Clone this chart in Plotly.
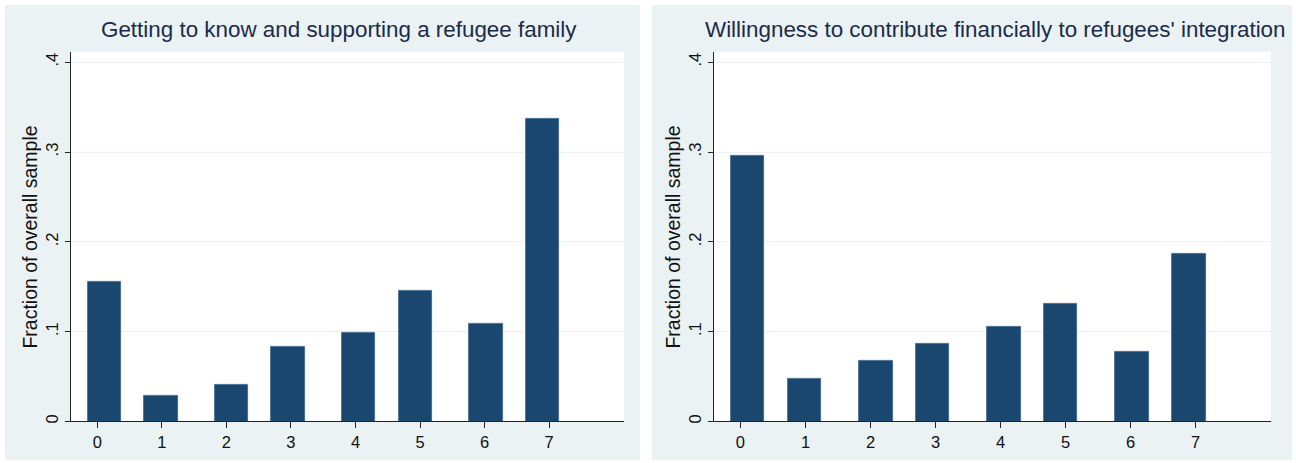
import plotly.graph_objects as go

# ---- data ----
tick_values = [0, 1, 2, 3, 4, 5, 6, 7]
tick_labels = ["0", "1", "2", "3", "4", "5", "6", "7"]
bar_x = [0.108, 0.986, 2.084, 2.956, 4.052, 4.926, 6.023, 6.900]
bar_width = 0.515
family_vals = [0.156, 0.029, 0.041, 0.083, 0.099, 0.146, 0.109, 0.337]
finance_vals = [0.296, 0.047, 0.068, 0.087, 0.105, 0.131, 0.078, 0.187]
y_tickvals = [0, 0.1, 0.2, 0.3, 0.4]
y_ticktext = ["0", ".1", ".2", ".3", ".4"]
titles = ["Getting to know and supporting a refugee family",
          "Willingness to contribute financially to refugees' integration"]
ytitle = "Fraction of overall sample"

W, H = 1296, 463
BG = "#EAF2F3"
BAR = "#1A476F"
FONT = "Liberation Sans"

def px(x):
    return x / W

def py(y):
    return 1 - y / H

panels = [(5, 640), (652, 1292)]
plot_x = [(71, 624), (714, 1271)]
title_cx = [339, 995]
plot_top, plot_bot = 52, 423.3

fig = go.Figure()
for i, vals in enumerate([family_vals, finance_vals]):
    fig.add_trace(go.Bar(
        x=bar_x, y=vals, width=bar_width,
        marker=dict(color=BAR, line=dict(color="#3a6389", width=0.8)),
        xaxis="x" if i == 0 else "x2", yaxis="y" if i == 0 else "y2",
        showlegend=False, hoverinfo="skip"))

shapes = []
for (a, b) in panels:
    shapes.append(dict(type="rect", xref="paper", yref="paper",
                       x0=px(a), x1=px(b), y0=py(462), y1=py(5),
                       fillcolor=BG, line=dict(width=0), layer="below"))
for (a, b) in plot_x:
    shapes.append(dict(type="rect", xref="paper", yref="paper",
                       x0=px(a), x1=px(b), y0=py(plot_bot), y1=py(plot_top),
                       fillcolor="white", line=dict(width=0), layer="below"))

ax_common = dict(range=[-0.407, 8.16], tickvals=tick_values, ticktext=tick_labels,
                 showgrid=False, zeroline=False, showline=True, linecolor="#222",
                 linewidth=1, ticks="outside", ticklen=6, tickcolor="#222",
                 tickfont=dict(family=FONT, size=16.5, color="#111"))
ay_common = dict(range=[0, 0.4116], tickvals=y_tickvals, ticktext=y_ticktext,
                 showgrid=True, gridcolor=BG, gridwidth=1, zeroline=False,
                 showline=True, linecolor="#222", linewidth=1, ticks="outside",
                 ticklen=5, tickcolor="#222", tickangle=-90,
                 tickfont=dict(family=FONT, size=16.5, color="#111"))

ydom = [py(plot_bot), py(plot_top)]
annotations = []
for i, (a, b) in enumerate(plot_x):
    annotations.append(dict(text=titles[i], xref="paper", yref="paper",
                            x=px(title_cx[i]), y=py(30), showarrow=False,
                            xanchor="center", yanchor="middle",
                            font=dict(family=FONT, size=22.4, color="#1c2b4a")))
    annotations.append(dict(text=ytitle, xref="paper", yref="paper",
                            x=px(a - 41), y=py((plot_top + plot_bot) / 2 + 1),
                            showarrow=False, textangle=-90,
                            xanchor="center", yanchor="middle",
                            font=dict(family=FONT, size=19.5, color="#111")))

fig.update_layout(
    width=W, height=H, margin=dict(l=0, r=0, t=0, b=0),
    paper_bgcolor="white", plot_bgcolor="rgba(0,0,0,0)",
    xaxis=dict(domain=[px(plot_x[0][0]), px(plot_x[0][1])], anchor="y", **ax_common),
    yaxis=dict(domain=ydom, anchor="x", **ay_common),
    xaxis2=dict(domain=[px(plot_x[1][0]), px(plot_x[1][1])], anchor="y2", **ax_common),
    yaxis2=dict(domain=ydom, anchor="x2", **ay_common),
    shapes=shapes, annotations=annotations, bargap=0,
)

fig.write_html("out.html")
